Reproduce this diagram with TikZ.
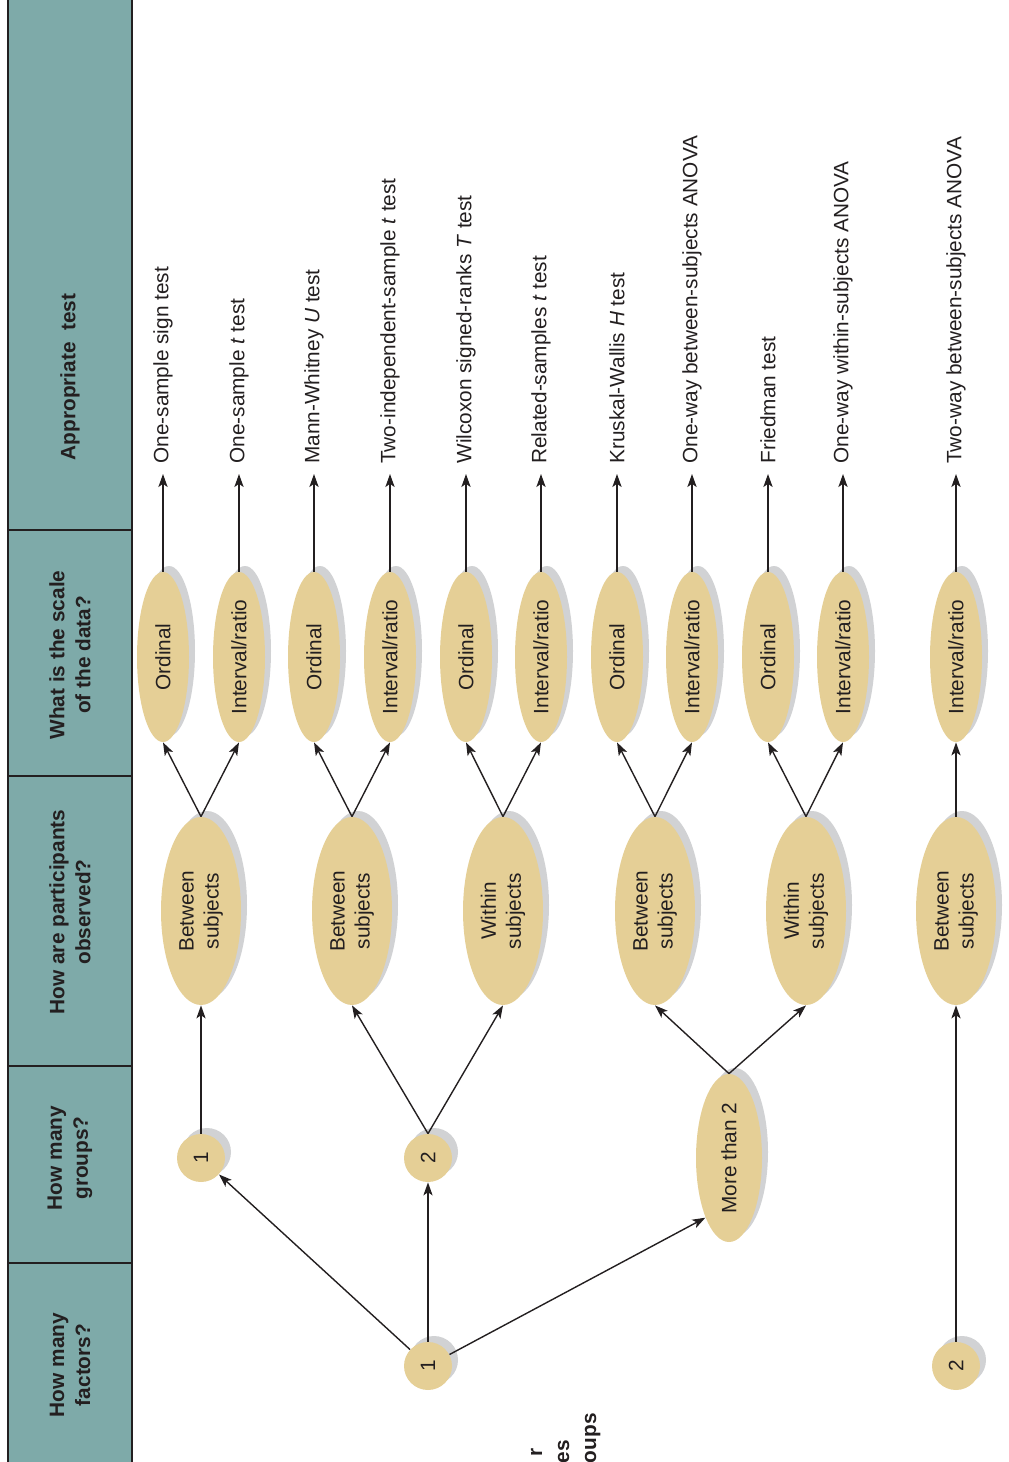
\documentclass[tikz,border=0pt]{standalone}
\usepackage{fontspec}
\setmainfont{Liberation Sans}
\usetikzlibrary{arrows.meta,shapes.geometric,shadows}
\definecolor{headteal}{RGB}{126,170,169}
\definecolor{blobtan}{RGB}{229,207,150}
\definecolor{blobshade}{RGB}{209,210,212}
\definecolor{inkdark}{RGB}{35,31,32}

\begin{document}
\begin{tikzpicture}[x=0.5pt,y=-0.5pt,
    blob/.style={ellipse,fill=blobtan,rotate=90,inner sep=1pt,text=inkdark,
        font=\fontsize{10.4}{12.5}\selectfont,
        drop shadow={shadow xshift=3pt,shadow yshift=3pt,fill=blobshade,opacity=1}},
    scalebox/.style={blob,minimum width=85pt,minimum height=26pt},
    subjbox/.style={blob,minimum width=94pt,minimum height=40pt,align=center},
    numdot/.style={blob,circle,minimum size=24pt},
    testlbl/.style={rotate=90,anchor=west,inner sep=5pt,text=inkdark,
        font=\fontsize{10.4}{12.5}\selectfont},
    headlbl/.style={rotate=90,align=center,text=inkdark,
        font=\fontsize{10.4}{13}\selectfont\bfseries},
    frag/.style={rotate=90,inner sep=0pt,text=inkdark,
        font=\fontsize{10.4}{13}\selectfont\bfseries},
    arr/.style={-{Stealth[length=6.5pt,width=4.6pt,inset=1.6pt]},line width=0.7pt,draw=inkdark}]
\useasboundingbox (0,0) rectangle (1008,1462);

% header band
\fill[headteal] (8,0) rectangle (132,1462);
\draw[inkdark,line width=0.7pt] (8,0) -- (8,1462) (132,0) -- (132,1462);
\foreach \yy in {530,776,1066,1263}
    \draw[inkdark,line width=0.7pt] (8,\yy) -- (132,\yy);
\node[headlbl] (hTest) at (70,377) {Appropriate\ \ test};
\node[headlbl] (hScale) at (70,655) {What is the scale\\of the data?};
\node[headlbl] (hObs) at (70,912) {How are participants\\observed?};
\node[headlbl] (hGroups) at (70,1158) {How many\\groups?};
\node[headlbl] (hFactors) at (70,1365) {How many\\factors?};

% scale of the data
\foreach \x [count=\i] in {163,239,314,390,466,541,617,692,768,843}
    \node[scalebox] (s\i) at (\x,657) {\ifodd\i\relax Ordinal\else Interval/ratio\fi};
\node[scalebox] (s11) at (956,657) {Interval/ratio};

% tests
\foreach \lbl [count=\i] in {One-sample sign test,{One-sample \textit{t} test},
    {Mann-Whitney \textit{U} test},{Two-independent-sample \textit{t} test},
    {Wilcoxon signed-ranks \textit{T} test},{Related-samples \textit{t} test},
    {Kruskal-Wallis \textit{H} test},One-way between-subjects ANOVA,
    Friedman test,One-way within-subjects ANOVA,Two-way between-subjects ANOVA}
{
    \node[testlbl] (t\i) at (s\i.east |- 0,474) {\lbl};
    \draw[arr] (s\i.east) -- (t\i.west);
}

% participants
\node[subjbox] (p1) at (201,911) {Between\\subjects};
\node[subjbox] (p2) at (352,911) {Between\\subjects};
\node[subjbox] (p3) at (503,911) {Within\\subjects};
\node[subjbox] (p4) at (655,911) {Between\\subjects};
\node[subjbox] (p5) at (806,911) {Within\\subjects};
\node[subjbox] (p6) at (956,911) {Between\\subjects};
\foreach \i/\j in {1/1,1/2,2/3,2/4,3/5,3/6,4/7,4/8,5/9,5/10,6/11}
    \draw[arr] (p\i.east) -- (s\j.west);

% groups and factors
\node[numdot] (g1) at (201,1158) {1};
\node[numdot] (g2) at (428,1158) {2};
\node[blob,minimum width=84pt,minimum height=33pt] (g3) at (729,1158) {More than 2};
\node[numdot] (f1) at (428,1366) {1};
\node[numdot] (f2) at (956,1366) {2};

\draw[arr] (g1) -- (p1);
\draw[arr] (g2.east) -- (p2.west);
\draw[arr] (g2.east) -- (p3.west);
\draw[arr] (g3.east) -- (p4.west);
\draw[arr] (g3.east) -- (p5.west);
\draw[arr] (f1) -- (g1);
\draw[arr] (f1) -- (g2);
\draw[arr] (f1) -- (g3.north west);
\draw[arr] (f2) -- (p6);

% cut-off label at the bottom edge
\node[frag,anchor=base east] (fr1) at (542,1448) {r};
\node[frag,anchor=base east] (fr2) at (569,1440) {es};
\node[frag,anchor=base east] (fr3) at (596,1413) {oups};
\end{tikzpicture}
\end{document}
